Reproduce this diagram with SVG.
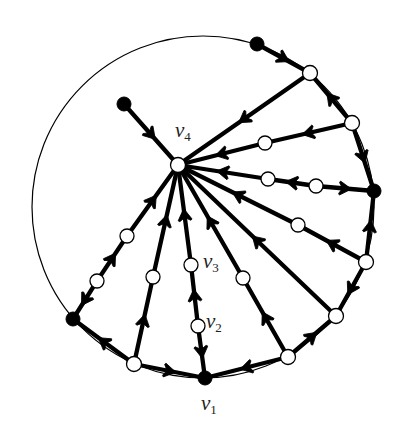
<svg xmlns="http://www.w3.org/2000/svg" width="405" height="431" viewBox="0 0 405 431">
<style>
.bg{fill:#fff}
.circ{fill:none;stroke:#000;stroke-width:1.2}
.e{fill:none;stroke:#000;stroke-width:4.3;stroke-linecap:round;marker-mid:url(#arr)}
.w{fill:#fff;stroke:#000;stroke-width:1.3}
.b{fill:#000;stroke:#000;stroke-width:1}
.lbl{font-family:"Liberation Serif","DejaVu Serif",serif;font-style:italic;font-size:21px;fill:#222}
.sub{font-size:13px;font-style:normal}
</style>
<defs>
<marker id="arr" viewBox="-8 -8 16 16" markerWidth="16" markerHeight="16" refX="0" refY="0" orient="auto" markerUnits="userSpaceOnUse">
<path d="M6.5,0 L-5,-7 L-6,-5.5 L-2.5,0 L-6,5.5 L-5,7 Z" fill="#000" stroke="#000" stroke-width="0.8" stroke-linejoin="round"/>
</marker>
</defs>
<rect class="bg" x="0" y="0" width="405" height="431"/>
<circle class="circ" cx="203" cy="207" r="171"/>
<g id="connectors">
<path class="e" d="M124,104 L151,134.5 L178,165"/>
<path class="e" d="M310,73 L244,119 L178,165"/>
<path class="e" d="M265,143 L221.5,154 L178,165"/>
<path class="e" d="M352,123 L308.5,133 L265,143"/>
<path class="e" d="M268,179 L223,172 L178,165"/>
<path class="e" d="M316,186 L292,182.5 L268,179"/>
<path class="e" d="M316,186 L345,188.5 L374,191"/>
<path class="e" d="M298,225 L238,195 L178,165"/>
<path class="e" d="M366,262 L332,243.5 L298,225"/>
<path class="e" d="M336,316 L257,240.5 L178,165"/>
<path class="e" d="M243,278 L210.5,221.5 L178,165"/>
<path class="e" d="M288,357 L265.5,317.5 L243,278"/>
<path class="e" d="M191,265 L184.5,215 L178,165"/>
<path class="e" d="M198,326 L194.5,295.5 L191,265"/>
<path class="e" d="M198,326 L201.5,352 L205,378"/>
<path class="e" d="M153,277 L165.5,221 L178,165"/>
<path class="e" d="M134,364 L143.5,320.5 L153,277"/>
<path class="e" d="M127,236 L152.5,200.5 L178,165"/>
<path class="e" d="M97,281 L112,258.5 L127,236"/>
<path class="e" d="M97,281 L85,300 L73,319"/>
<path class="e" d="M257,44 L283.5,58.5 L310,73"/>
<path class="e" d="M352,123 L331,98 L310,73"/>
<path class="e" d="M352,123 L363,157 L374,191"/>
<path class="e" d="M366,262 L370,226.5 L374,191"/>
<path class="e" d="M366,262 L351,289 L336,316"/>
<path class="e" d="M288,357 L312,336.5 L336,316"/>
<path class="e" d="M288,357 L246.5,367.5 L205,378"/>
<path class="e" d="M134,364 L169.5,371 L205,378"/>
<path class="e" d="M134,364 L103.5,341.5 L73,319"/>
</g>
<g id="n_tl"><circle class="b" cx="124" cy="104" r="7"/></g>
<g id="n_t"><circle class="b" cx="257" cy="44" r="7"/></g>
<g id="n_k"><circle class="b" cx="374" cy="191" r="7"/></g>
<g id="n_l"><circle class="b" cx="73" cy="319" r="7"/></g>
<g id="v1"><circle class="b" cx="205" cy="378" r="7"/><text class="lbl" x="201" y="410">v<tspan class="sub" dy="4">1</tspan></text></g>
<g id="v4"><circle class="w" cx="178" cy="165" r="7.5"/><text class="lbl" x="175" y="137">v<tspan class="sub" dy="4">4</tspan></text></g>
<g id="v3"><circle class="w" cx="191" cy="265" r="7"/><text class="lbl" x="203" y="268">v<tspan class="sub" dy="4">3</tspan></text></g>
<g id="v2"><circle class="w" cx="198" cy="326" r="7"/><text class="lbl" x="206" y="328">v<tspan class="sub" dy="4">2</tspan></text></g>
<g id="n_a"><circle class="w" cx="310" cy="73" r="7.5"/></g>
<g id="n_b"><circle class="w" cx="352" cy="123" r="7.5"/></g>
<g id="n_b1"><circle class="w" cx="265" cy="143" r="7"/></g>
<g id="n_c1"><circle class="w" cx="268" cy="179" r="7"/></g>
<g id="n_c2"><circle class="w" cx="316" cy="186" r="7"/></g>
<g id="n_d"><circle class="w" cx="366" cy="262" r="7.5"/></g>
<g id="n_d1"><circle class="w" cx="298" cy="225" r="7"/></g>
<g id="n_e"><circle class="w" cx="336" cy="316" r="7.5"/></g>
<g id="n_f"><circle class="w" cx="288" cy="357" r="7.5"/></g>
<g id="n_f1"><circle class="w" cx="243" cy="278" r="7"/></g>
<g id="n_g"><circle class="w" cx="134" cy="364" r="7.5"/></g>
<g id="n_g1"><circle class="w" cx="153" cy="277" r="7"/></g>
<g id="n_h1"><circle class="w" cx="127" cy="236" r="7"/></g>
<g id="n_h2"><circle class="w" cx="97" cy="281" r="7"/></g>
</svg>
